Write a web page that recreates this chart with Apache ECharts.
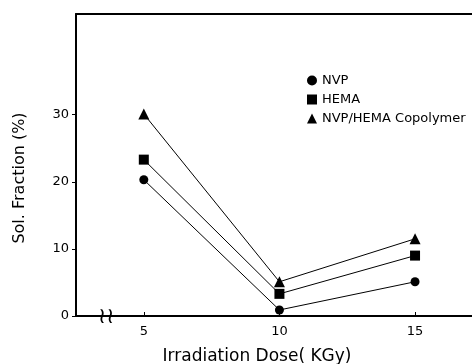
<!DOCTYPE html>
<html><head><meta charset="utf-8">
<script src="https://cdn.jsdelivr.net/npm/echarts@6/dist/echarts.min.js"></script>
<style>html,body{margin:0;padding:0;background:#fff}#c{width:472px;height:364px}</style>
</head><body><div id="c"></div>
<script>
const doses = [5, 10, 15];
const nvp = [20.3, 0.9, 5.1];
const hema = [23.3, 3.3, 9.0];
const copolymer = [30.1, 5.1, 11.5];
const seriesNames = ['NVP', 'HEMA', 'NVP/HEMA Copolymer'];
const yTicks = [0, 10, 20, 30];
const xTicks = [5, 10, 15];

const font = 'DejaVu Sans';
const chart = echarts.init(document.getElementById('c'));
function mk(name, vals, sym, size) {
  return {
    name: name, type: 'line', data: doses.map((d, i) => [d, vals[i]]),
    symbol: sym, symbolSize: size, showSymbol: true,
    lineStyle: {color: '#000', width: 1}, itemStyle: {color: '#000'},
    animation: false, z: 3
  };
}
chart.setOption({
  animation: false,
  grid: {left: 76, right: 0, top: 14, bottom: 48, outerBoundsMode: 'none', containLabel: false},
  legend: {
    orient: 'vertical', left: 302, top: 69, itemGap: 6, itemWidth: 10, itemHeight: 10,
    textStyle: {color: '#000', fontFamily: font, fontSize: 13},
    data: [{name: seriesNames[0], icon: 'circle'}, {name: seriesNames[1], icon: 'rect'}, {name: seriesNames[2], icon: 'triangle'}]
  },
  xAxis: [{
    type: 'value', min: 2.5, max: 17.1, position: 'bottom',
    axisLine: {lineStyle: {color: '#000', width: 2}},
    axisTick: {inside: true, length: 4, customValues: xTicks, lineStyle: {color: '#000'}},
    axisLabel: {customValues: xTicks, color: '#000', fontFamily: font, fontSize: 13, margin: 9},
    splitLine: {show: false},
    name: 'Irradiation Dose( KGy)', nameLocation: 'middle', nameGap: 32,
    nameTextStyle: {color: '#000', fontFamily: font, fontSize: 17, padding: [0, 34, 0, 0]}
  }, {
    type: 'value', min: 2.5, max: 17.1, position: 'top',
    axisLine: {show: true, lineStyle: {color: '#000', width: 2}},
    axisTick: {show: false}, axisLabel: {show: false}, splitLine: {show: false}
  }],
  yAxis: {
    type: 'value', min: 0, max: 45,
    axisLine: {show: true, lineStyle: {color: '#000', width: 2}},
    axisTick: {show: true, length: 4, customValues: yTicks, lineStyle: {color: '#000'}},
    axisLabel: {customValues: yTicks, color: '#000', fontFamily: font, fontSize: 13, margin: 7},
    splitLine: {show: false},
    name: 'Sol. Fraction (%)', nameLocation: 'middle', nameGap: 48, nameRotate: 90,
    nameTextStyle: {color: '#000', fontFamily: font, fontSize: 16, padding: [0, 26, 0, 0]}
  },
  graphic: [{
    type: 'text', left: 98, top: 306, z: 10,
    style: {text: '≀≀', font: '22px DejaVu Sans', fill: '#000'}
  }],
  series: [mk(seriesNames[0], nvp, 'circle', 9), mk(seriesNames[1], hema, 'rect', 10), mk(seriesNames[2], copolymer, 'triangle', 11)]
});
</script></body></html>
